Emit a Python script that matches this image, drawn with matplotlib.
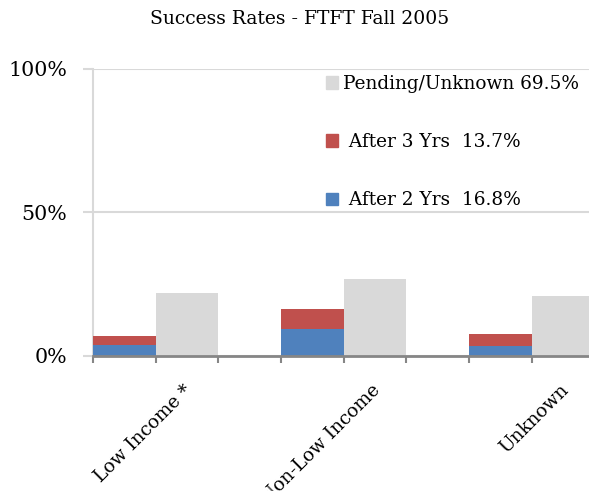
import matplotlib
matplotlib.use("Agg")
import matplotlib.pyplot as plt
import numpy as np
from matplotlib.patches import Patch
from matplotlib.transforms import ScaledTranslation

categories = ["Low Income *", "Non-Low Income", "Unknown"]
after2 = [3.7, 9.1, 3.4]
after3 = [3.0, 7.0, 4.1]
pending = [21.9, 26.6, 20.6]
legend_labels = ["Pending/Unknown 69.5%", " After 3 Yrs  13.7%", " After 2 Yrs  16.8%"]
title = "Success Rates - FTFT Fall 2005"

BLUE = "#4F81BD"
RED = "#C0504D"
GREY = "#D9D9D9"
FONT = "DejaVu Serif"

W, H = 589, 491
fig = plt.figure(figsize=(W / 100, H / 100), dpi=100)
left_px, right_px, bot_px, top_px = 93, 589, 355.5, 69
slot = 62.67
ax = fig.add_axes([left_px / W, (H - bot_px) / H, (right_px - left_px) / W, (bot_px - top_px) / H])

n = len(categories)
g = np.arange(n) * 3
ax.bar(g + 0.5, after2, width=1.0, color=BLUE, zorder=3)
ax.bar(g + 0.5, after3, width=1.0, bottom=after2, color=RED, zorder=3)
ax.bar(g + 1.5, pending, width=1.0, color=GREY, zorder=3)

ax.set_yticks([0, 50, 100])
ax.set_yticklabels(["0%", "50%", "100%"], fontsize=14.8, family=FONT)
ax.yaxis.grid(True, color="#D9D9D9", linewidth=1.5, zorder=0)
ax.tick_params(axis="y", length=7, width=1.5, color="#D9D9D9", pad=11.5)

ax.set_xticks(g + 1.5)
ax.set_xticklabels(categories, rotation=45, ha="right", va="top",
                   rotation_mode="anchor", fontsize=13.3, family=FONT)
ax.set_xticks(np.arange(0, 3 * n + 1), minor=True)
ax.tick_params(axis="x", which="major", length=0, pad=10)
ax.tick_params(axis="x", which="minor", length=5, width=1.5, color="#868686")
off = ScaledTranslation(-0.04, -0.12, fig.dpi_scale_trans)
for lab in ax.get_xticklabels():
    lab.set_transform(lab.get_transform() + off)

ax.set_ylim(0, 100)
ax.set_xlim(0, (right_px - left_px) / slot)

for s in ["top", "right"]:
    ax.spines[s].set_visible(False)
ax.spines["left"].set_color("#D9D9D9")
ax.spines["left"].set_linewidth(1.5)
ax.spines["bottom"].set_color("#868686")
ax.spines["bottom"].set_linewidth(2)
ax.spines["bottom"].set_zorder(4)

fig.text(300 / W, 1 - 19.5 / H, title, ha="center", va="center", fontsize=13.5, family=FONT)

handles = [Patch(color=GREY), Patch(color=RED), Patch(color=BLUE)]
leg = fig.legend(handles, legend_labels, loc="upper left",
                 bbox_to_anchor=(326 / W, 1 - 75 / H), frameon=False,
                 prop={"family": FONT, "size": 13.3}, handlelength=0.65,
                 handleheight=0.65, handletextpad=0.25, labelspacing=2.17,
                 borderpad=0, borderaxespad=0)

fig.savefig("out.png", dpi=100)
